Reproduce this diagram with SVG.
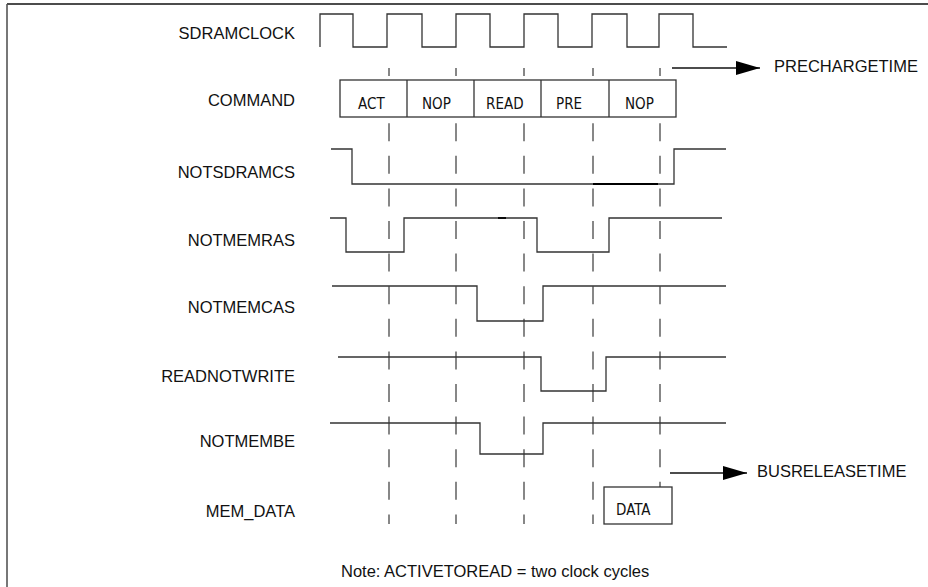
<svg xmlns="http://www.w3.org/2000/svg" width="928" height="587" viewBox="0 0 928 587">
<style>
.lbl{font-family:"Liberation Sans",Arial,sans-serif;font-size:16.5px;fill:#111;}
.r{text-anchor:end;}
.cmd{font-family:"Liberation Sans Narrow","DejaVu Sans Condensed","Liberation Sans",sans-serif;font-size:15px;fill:#111;}
.sig{fill:none;stroke:#333;stroke-width:1.3;}
.box{fill:#fff;stroke:#333;stroke-width:1.3;}
.dash{stroke:#555;stroke-width:1.4;stroke-dasharray:18 14.6;stroke-dashoffset:10;}
.arr{stroke:#111;stroke-width:1.3;}
</style>
<defs>
<marker id="ah" markerWidth="24" markerHeight="14" refX="24" refY="7" orient="auto" markerUnits="userSpaceOnUse">
<path d="M0,0 L24,7 L0,14 Z" fill="#000"/>
</marker>
</defs>
<rect width="928" height="587" fill="#fff"/>
<g id="frame">
<line x1="7" y1="4" x2="928" y2="4" stroke="#111" stroke-width="1.6"/>
<line x1="7" y1="4" x2="7" y2="587" stroke="#555" stroke-width="1.6"/>
</g>
<g id="grid">
<line class="dash" x1="389" y1="68" x2="389" y2="524"/>
<line class="dash" x1="456" y1="68" x2="456" y2="524"/>
<line class="dash" x1="524" y1="68" x2="524" y2="524"/>
<line class="dash" x1="593" y1="68" x2="593" y2="524"/>
<line class="dash" x1="660" y1="68" x2="660" y2="524"/>
</g>
<g id="labels">
<text class="lbl r" x="295" y="39">SDRAMCLOCK</text>
<text class="lbl r" x="295" y="106">COMMAND</text>
<text class="lbl r" x="295" y="178">NOTSDRAMCS</text>
<text class="lbl r" x="295" y="246">NOTMEMRAS</text>
<text class="lbl r" x="295" y="313">NOTMEMCAS</text>
<text class="lbl r" x="295" y="382">READNOTWRITE</text>
<text class="lbl r" x="295" y="447">NOTMEMBE</text>
<text class="lbl r" x="295" y="517">MEM_DATA</text>
</g>
<g id="sdramclock">
<path class="sig" d="M320,47 V14 H353 V47 H387 V14 H422 V47 H456 V14 H490 V47 H524 V14 H558 V47 H592 V14 H627 V47 H659 V14 H693 V47 H727"/>
</g>
<g id="command">
<rect class="box" x="340" y="80" width="336" height="37"/>
<line class="sig" x1="407" y1="80" x2="407" y2="117"/>
<line class="sig" x1="474" y1="80" x2="474" y2="117"/>
<line class="sig" x1="541" y1="80" x2="541" y2="117"/>
<line class="sig" x1="609" y1="80" x2="609" y2="117"/>
<text class="cmd" x="358" y="109">ACT</text>
<text class="cmd" x="422" y="109">NOP</text>
<text class="cmd" x="486" y="109">READ</text>
<text class="cmd" x="556" y="109">PRE</text>
<text class="cmd" x="625" y="109">NOP</text>
</g>
<g id="notsdramcs">
<path class="sig" d="M331,149 H352 V184 H674 V149 H726"/>
<line x1="593" y1="184" x2="658" y2="184" stroke="#000" stroke-width="1.8"/>
</g>
<g id="notmemras">
<path class="sig" d="M330,218 H346 V252 H404 V218 H537 V252 H609 V218 H722"/>
<line x1="498" y1="218" x2="506" y2="218" stroke="#000" stroke-width="1.8"/>
</g>
<g id="notmemcas">
<path class="sig" d="M332,286 H477 V321 H543 V286 H726"/>
</g>
<g id="readnotwrite">
<path class="sig" d="M338,357 H541 V391 H606 V357 H726"/>
</g>
<g id="notmembe">
<path class="sig" d="M330,423 H480 V454 H543 V423 H726"/>
</g>
<g id="mem_data">
<rect class="box" x="604" y="487" width="68" height="37"/>
<text class="cmd" x="616" y="515">DATA</text>
</g>
<g id="connectors">
<line class="arr" x1="672" y1="68" x2="760" y2="68" marker-end="url(#ah)"/>
<line class="arr" x1="670" y1="473" x2="747" y2="473" marker-end="url(#ah)"/>
</g>
<g id="annotations">
<text class="lbl" x="774" y="72">PRECHARGETIME</text>
<text class="lbl" x="757" y="477">BUSRELEASETIME</text>
<text class="lbl" x="341" y="577">Note: ACTIVETOREAD = two clock cycles</text>
</g>
</svg>
